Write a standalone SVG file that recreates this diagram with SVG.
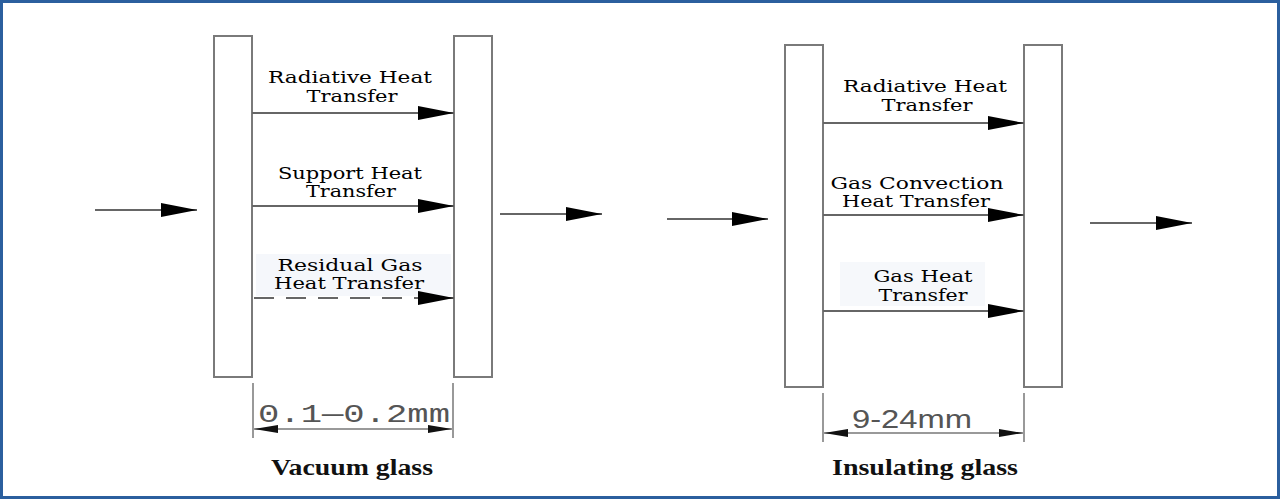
<svg xmlns="http://www.w3.org/2000/svg" width="1280" height="499" viewBox="0 0 1280 499">
<style>
.pane{fill:#fff;stroke:#7a7a7a;stroke-width:2}
.ln{stroke:#666;stroke-width:2;fill:none}
.dim{stroke:#777;stroke-width:1.5;fill:none}
.lbl{font-family:"DejaVu Serif","Liberation Serif",serif;font-size:17px;fill:#000;text-anchor:middle}
.cap{font-family:"Liberation Serif",serif;font-size:23px;font-weight:bold;fill:#111;text-anchor:middle}
.dt{font-family:"Liberation Mono","DejaVu Sans Mono",monospace;font-size:26px;fill:#555;text-anchor:middle}
.dt2{font-family:"Liberation Sans",Arial,sans-serif;font-size:26px;fill:#555;text-anchor:middle}
</style>
<defs>
<marker id="ah" viewBox="0 0 36 14" refX="36" refY="7" markerWidth="36" markerHeight="14" markerUnits="userSpaceOnUse" orient="auto"><path d="M0,0 L36,7 L0,14 Z" fill="#000"/></marker>
<marker id="dh" viewBox="0 0 24 8" refX="24" refY="4" markerWidth="24" markerHeight="8" markerUnits="userSpaceOnUse" orient="auto-start-reverse"><path d="M0,0 L24,4 L0,8 Z" fill="#111"/></marker>
</defs>
<rect x="1.5" y="1.5" width="1277" height="496" fill="#fff" stroke="#2b5f9e" stroke-width="3"/>
<rect x="256" y="254" width="195" height="42" fill="#f5f7fb"/>
<rect x="840" y="262" width="145" height="44" fill="#f6f8fb"/>

<g id="vacuum-left-pane"><rect class="pane" x="214" y="36" width="38" height="341"/></g>
<g id="vacuum-right-pane"><rect class="pane" x="454" y="36" width="38" height="341"/></g>
<g id="insulating-left-pane"><rect class="pane" x="785" y="45" width="38" height="342"/></g>
<g id="insulating-right-pane"><rect class="pane" x="1024" y="45" width="38" height="342"/></g>

<g id="connectors">
<line class="ln" x1="95" y1="210" x2="197" y2="210" marker-end="url(#ah)"/>
<line class="ln" x1="500" y1="214" x2="602" y2="214" marker-end="url(#ah)"/>
<line class="ln" x1="252" y1="113" x2="454" y2="113" marker-end="url(#ah)"/>
<line class="ln" x1="252" y1="206" x2="454" y2="206" marker-end="url(#ah)"/>
<line class="ln" x1="254" y1="298" x2="454" y2="298" stroke-dasharray="20,12" marker-end="url(#ah)"/>
<line class="ln" x1="667" y1="219" x2="768" y2="219" marker-end="url(#ah)"/>
<line class="ln" x1="1090" y1="223" x2="1192" y2="223" marker-end="url(#ah)"/>
<line class="ln" x1="823" y1="123" x2="1024" y2="123" marker-end="url(#ah)"/>
<line class="ln" x1="823" y1="215" x2="1024" y2="215" marker-end="url(#ah)"/>
<line class="ln" x1="823" y1="311" x2="1024" y2="311" marker-end="url(#ah)"/>
<line class="dim" x1="253" y1="383" x2="253" y2="438"/>
<line class="dim" x1="453" y1="383" x2="453" y2="438"/>
<line class="dim" x1="254" y1="429" x2="452" y2="429" marker-start="url(#dh)" marker-end="url(#dh)"/>
<line class="dim" x1="823" y1="393" x2="823" y2="442"/>
<line class="dim" x1="1024" y1="393" x2="1024" y2="442"/>
<line class="dim" x1="824" y1="433" x2="1023" y2="433" marker-start="url(#dh)" marker-end="url(#dh)"/>
</g>

<g id="vacuum-labels">
<text class="lbl" x="350" y="83" textLength="164" lengthAdjust="spacingAndGlyphs">Radiative Heat</text>
<text class="lbl" x="352" y="102" textLength="91" lengthAdjust="spacingAndGlyphs">Transfer</text>
<text class="lbl" x="350" y="179" textLength="144" lengthAdjust="spacingAndGlyphs">Support Heat</text>
<text class="lbl" x="351" y="197" textLength="90" lengthAdjust="spacingAndGlyphs">Transfer</text>
<text class="lbl" x="350" y="271" textLength="145" lengthAdjust="spacingAndGlyphs">Residual Gas</text>
<text class="lbl" x="349" y="289" textLength="150" lengthAdjust="spacingAndGlyphs">Heat Transfer</text>
<text class="dt" x="354" y="422" textLength="192" lengthAdjust="spacingAndGlyphs">0.1—0.2mm</text>
<text class="cap" x="352" y="475" textLength="162" lengthAdjust="spacingAndGlyphs">Vacuum glass</text>
</g>

<g id="insulating-labels">
<text class="lbl" x="925" y="92" textLength="164" lengthAdjust="spacingAndGlyphs">Radiative Heat</text>
<text class="lbl" x="927" y="111" textLength="91" lengthAdjust="spacingAndGlyphs">Transfer</text>
<text class="lbl" x="917" y="189" textLength="173" lengthAdjust="spacingAndGlyphs">Gas Convection</text>
<text class="lbl" x="916" y="207" textLength="148" lengthAdjust="spacingAndGlyphs">Heat Transfer</text>
<text class="lbl" x="923" y="282" textLength="99" lengthAdjust="spacingAndGlyphs">Gas Heat</text>
<text class="lbl" x="923" y="301" textLength="89" lengthAdjust="spacingAndGlyphs">Transfer</text>
<text class="dt2" x="912" y="428" textLength="120" lengthAdjust="spacingAndGlyphs">9-24mm</text>
<text class="cap" x="925" y="475" textLength="186" lengthAdjust="spacingAndGlyphs">Insulating glass</text>
</g>
</svg>
